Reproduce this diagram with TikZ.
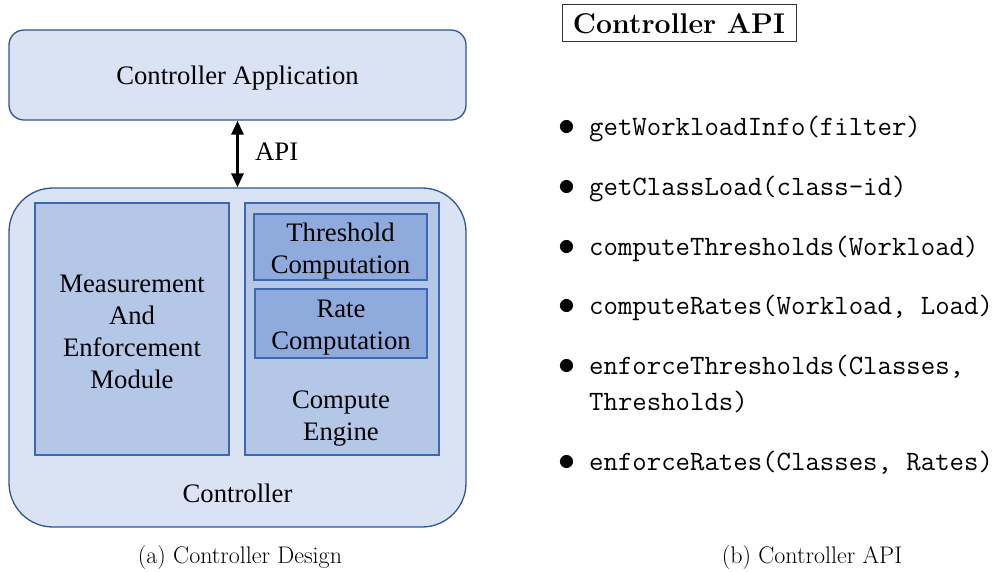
\RequirePackage{fix-cm}
\documentclass[tikz,border=0pt]{standalone}
\usepackage{fontspec}
\newfontfamily\tnr{Liberation Serif}
\usetikzlibrary{arrows.meta}

\definecolor{paleblue}{HTML}{DAE3F3}
\definecolor{midblue}{HTML}{B4C7E7}
\definecolor{deepblue}{HTML}{8FAADC}
\definecolor{edgeouter}{HTML}{2F5597}
\definecolor{edgeinner}{HTML}{3E67B1}

\tikzset{
  boxtext/.style={font=\tnr\fontsize{26.7}{32}\selectfont, align=center},
  outerbox/.style={draw=edgeouter, fill=paleblue, line width=1.3pt, inner sep=0pt},
  midbox/.style={draw=edgeinner, fill=midblue, line width=1.3pt, inner sep=0pt},
  innerbox/.style={draw=edgeinner, fill=deepblue, line width=1.3pt, inner sep=0pt},
  lbl/.style={inner sep=0pt, boxtext},
  apiarrow/.style={line width=3pt, {Triangle[width=12pt,length=14pt]}-{Triangle[width=12pt,length=14pt]}},
  apiitem/.style={anchor=base west, inner sep=0pt, font=\ttfamily\fontsize{28}{34}\selectfont},
  itemdot/.style={anchor=base, inner sep=0pt, font=\fontsize{34}{40}\selectfont},
  caption/.style={anchor=base, inner sep=0pt, font=\fontsize{24}{29}\selectfont},
}

\begin{document}
\begin{tikzpicture}[x=1pt, y=-1pt]
\useasboundingbox (0,0) rectangle (1006,571);

% ---------- (a) controller design ----------
\node[outerbox, rounded corners=15pt, minimum width=457pt, minimum height=90pt]
  (app) at (237.5,75) {};
\node[lbl] (appname) at (237.5,78) {Controller Application};

\node[outerbox, rounded corners=44pt, minimum width=457pt, minimum height=339pt]
  (ctl) at (237.5,357.5) {};
\node[lbl] (ctlname) at (237.5,493) {Controller};

\node[midbox, minimum width=194pt, minimum height=252pt]
  (mem) at (132,329) {};
\node[lbl] (memname) at (132,332) {Measurement\\And\\Enforcement\\Module};

\node[midbox, minimum width=194pt, minimum height=252pt]
  (eng) at (342,329) {};
\node[lbl] (engname) at (341,419) {Compute\\Engine};

\node[innerbox, minimum width=173pt, minimum height=66pt]
  (thr) at (340.5,247) {};
\node[lbl] (thrname) at (340.5,251) {Threshold\\Computation};
\node[innerbox, minimum width=172pt, minimum height=69pt]
  (rate) at (341,323.5) {};
\node[lbl] (ratename) at (341,328) {Rate\\Computation};

\draw[apiarrow] (app.south) -- (ctl.north);
\node[lbl, anchor=base west] (api) at (255,160) {API};

% ---------- (b) controller API ----------
\node[draw=black!80, line width=0.8pt, anchor=base, inner xsep=11pt, inner ysep=4pt,
      text height=25pt, text depth=4pt,
      font=\bfseries\fontsize{28.5}{34}\selectfont]
  (title) at (679,33) {Controller API};

\node[itemdot] (d1) at (567,135) {$\bullet$};
\node[apiitem] (f1) at (589,135) {getWorkloadInfo(filter)};
\node[itemdot] (d2) at (567,195) {$\bullet$};
\node[apiitem] (f2) at (589,195) {getClassLoad(class-id)};
\node[itemdot] (d3) at (567,255) {$\bullet$};
\node[apiitem] (f3) at (589,255) {computeThresholds(Workload)};
\node[itemdot] (d4) at (567,314) {$\bullet$};
\node[apiitem] (f4) at (589,314) {computeRates(Workload, Load)};
\node[itemdot] (d5) at (567,374) {$\bullet$};
\node[apiitem] (f5) at (589,374) {enforceThresholds(Classes,};
\node[apiitem] (f5b) at (589,410) {Thresholds)};
\node[itemdot] (d6) at (567,470) {$\bullet$};
\node[apiitem] (f6) at (589,470) {enforceRates(Classes, Rates)};

% ---------- captions ----------
\node[caption] (capa) at (240,563) {(a) Controller Design};
\node[caption] (capb) at (812,563) {(b) Controller API};
\end{tikzpicture}
\end{document}
